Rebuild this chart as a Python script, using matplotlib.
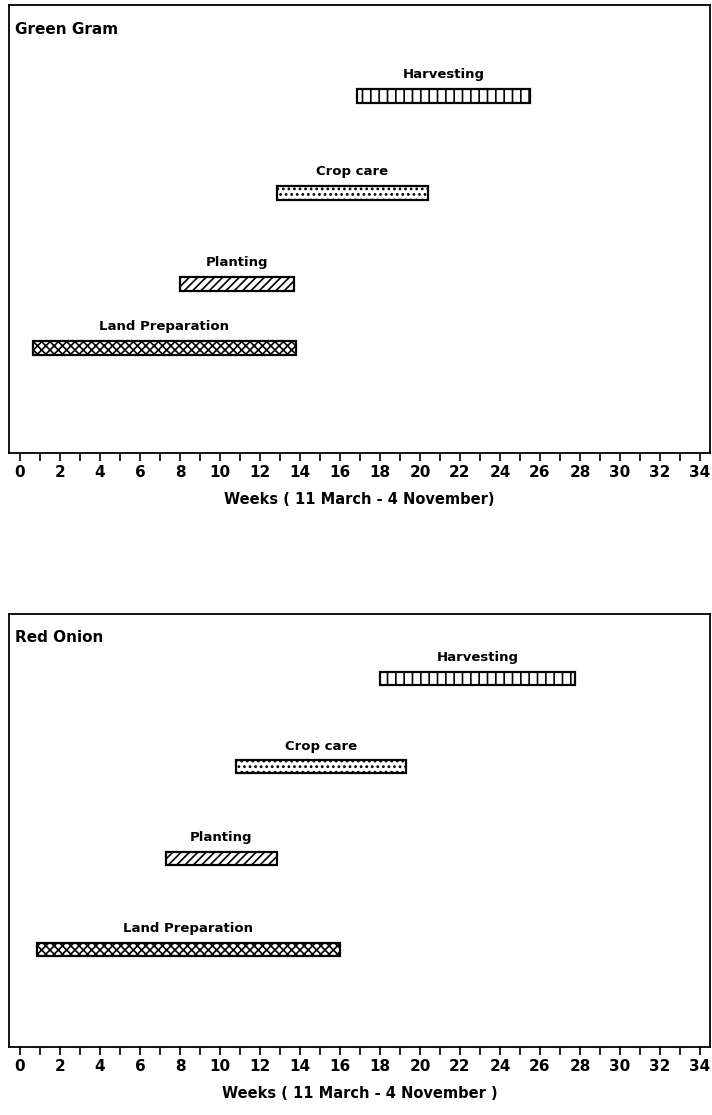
import matplotlib
matplotlib.use("Agg")
import matplotlib.pyplot as plt

plt.rcParams['font.family'] = ['DejaVu Sans']
plt.rcParams['hatch.linewidth'] = 1.2

activities = ["Harvesting", "Crop care", "Planting", "Land Preparation"]
hatches = ["||", "...", "////", "xxxx"]

crops = ["Green Gram", "Red Onion"]
xlabels = ["Weeks ( 11 March - 4 November)", "Weeks ( 11 March - 4 November )"]

gg_start = [16.85, 12.85, 8.0, 0.65]
gg_end = [25.5, 20.4, 13.7, 13.8]
gg_ypos = [79.7, 58.0, 37.7, 23.4]

ro_start = [18.0, 10.8, 7.3, 0.85]
ro_end = [27.75, 19.3, 12.85, 16.0]
ro_ypos = [85.2, 64.7, 43.6, 22.5]

tick_values = list(range(0, 35))
tick_labels = [str(v) if v % 2 == 0 else "" for v in tick_values]

fig = plt.figure(figsize=(7.12, 11.15), dpi=100)
axes_rects = [[0.0126, 0.5937, 0.9845, 0.4018], [0.0126, 0.0610, 0.9845, 0.3883]]
datasets = [(gg_start, gg_end, gg_ypos), (ro_start, ro_end, ro_ypos)]

for rect, crop, xl, (st, en, yp) in zip(axes_rects, crops, xlabels, datasets):
    ax = fig.add_axes(rect)
    ax.set_xlim(-0.55, 34.5)
    ax.set_ylim(0, 100)
    widths = [e - s for s, e in zip(st, en)]
    bars = ax.barh(yp, widths, left=st, height=3.0, color="white",
                   edgecolor="black", linewidth=1.6)
    for b, h in zip(bars, hatches):
        b.set_hatch(h)
    for s, e, y, name in zip(st, en, yp, activities):
        ax.text((s + e) / 2, y + 3.3, name, ha="center", va="bottom",
                fontsize=9.5, fontweight="bold")
    ax.text(0.009, 0.962, crop, transform=ax.transAxes, ha="left", va="top",
            fontsize=11, fontweight="bold")
    ax.set_yticks([])
    ax.set_xticks(tick_values)
    ax.set_xticklabels(tick_labels, fontsize=11, fontweight="bold")
    ax.tick_params(axis="x", direction="out", length=5.5, width=1.2, pad=3)
    ax.set_xlabel(xl, fontsize=10.5, fontweight="bold", labelpad=9)
    for sp in ax.spines.values():
        sp.set_linewidth(1.3)

fig.savefig("out.png", dpi=100)
